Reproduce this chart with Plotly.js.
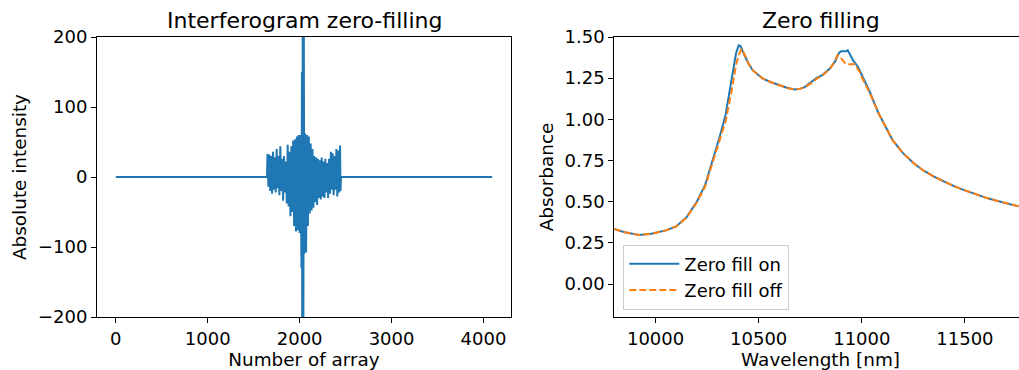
<!DOCTYPE html>
<html>
<head>
<meta charset="utf-8">
<script src="https://cdn.plot.ly/plotly-3.0.1.min.js"></script>
<style>
html,body{margin:0;padding:0;overflow:hidden;background:#fff;}
#chart{width:1030px;height:370px;}
</style>
</head>
<body>
<div id="chart"></div>
<script>
// ---- Interferogram (left) ----
const arrayIndex = [0, 1645,
  1650,1660,1670,1680,1690,1700,1710,1720,1730,1740,1750,1760,1770,1780,1790,1800,
  1810,1820,1830,1840,1850,1860,1870,1880,1890,1900,1910,1920,1930,1940,1950,1960,
  1970,1980,1990,2000,2010,2020,2025,2030,2035,2040,2045,2050,2060,2070,2080,2090,
  2100,2110,2120,2130,2140,2150,2160,2170,2180,2190,2200,2210,2220,2230,2240,2250,
  2260,2270,2280,2290,2300,2310,2320,2330,2340,2350,2360,2370,2380,2390,2400,2410,
  2420,2430,2440,2445,2450, 4095];
const intensity = [0, 0,
  33,-14,32,-20,30,-24,36,-18,28,-22,40,-16,30,-26,44,-20,
  26,-34,30,-22,22,-38,46,-42,36,-56,44,-50,52,-70,54,-78,
  58,-76,60,-80,60,-130,150,-420,450,-330,260,-110,62,-108,60,-70,
  58,-52,48,-48,40,-44,30,-36,28,-40,26,-30,24,-32,28,-28,
  22,-30,26,-22,20,-30,26,-24,36,-18,34,-26,30,-18,40,-28,
  38,-22,45,-20,0, 0];

// ---- Absorbance spectra (right) ----
const wavelengthOn = [9798,9850,9920,9980,10050,10100,10150,10200,10240,10280,10310,10340,
  10370,10390,10403,10412,10424,10450,10472,10520,10560,10600,10640,10675,10700,10723,
  10750,10780,10810,10845,10870,10890,10900,10925,10932,10958,10982,11010,11039,11080,
  11120,11150,11200,11250,11300,11350,11400,11450,11500,11550,11600,11650,11700,11760];
const absorbanceOn = [0.334,0.315,0.298,0.305,0.326,0.350,0.405,0.500,0.600,0.760,0.890,1.030,
  1.260,1.400,1.449,1.445,1.409,1.340,1.297,1.247,1.225,1.206,1.190,1.182,1.185,1.196,
  1.220,1.251,1.270,1.308,1.350,1.405,1.413,1.413,1.420,1.358,1.318,1.240,1.166,1.040,
  0.940,0.872,0.795,0.735,0.688,0.652,0.622,0.593,0.569,0.546,0.525,0.507,0.490,0.472];

const wavelengthOff = [9798,9850,9920,9980,10050,10100,10150,10200,10240,10280,10310,10340,
  10370,10390,10403,10417,10424,10450,10472,10520,10560,10600,10640,10675,10700,10723,
  10750,10780,10810,10845,10870,10882,10900,10920,10934,10966,10990,11010,11039,11080,
  11120,11150,11200,11250,11300,11350,11400,11450,11500,11550,11600,11650,11700,11760];
const absorbanceOff = [0.334,0.315,0.298,0.305,0.326,0.350,0.403,0.495,0.592,0.750,0.875,0.990,
  1.180,1.330,1.390,1.429,1.415,1.340,1.297,1.247,1.225,1.206,1.190,1.182,1.185,1.196,
  1.215,1.245,1.268,1.305,1.355,1.390,1.370,1.340,1.335,1.335,1.287,1.230,1.160,1.040,
  0.940,0.872,0.795,0.735,0.688,0.652,0.622,0.593,0.569,0.546,0.525,0.507,0.490,0.472];

const leftTicks = [0,1000,2000,3000,4000];
const leftYTicks = [-200,-100,0,100,200];
const rightTicks = [10000,10500,11000,11500];
const rightYTicks = [0,0.25,0.5,0.75,1.0,1.25,1.5];

const W = 1030, H = 370;
const FONT = 'DejaVu Sans, sans-serif';
const blue = '#1f77b4', orange = '#ff7f0e';

const traces = [
  {x: arrayIndex, y: intensity, type:'scatter', mode:'lines', xaxis:'x', yaxis:'y',
   line:{color:blue, width:2}, showlegend:false},
  {x: wavelengthOn, y: absorbanceOn, type:'scatter', mode:'lines', xaxis:'x2', yaxis:'y2',
   name:'Zero fill on', line:{color:blue, width:2}},
  {x: wavelengthOff, y: absorbanceOff, type:'scatter', mode:'lines', xaxis:'x2', yaxis:'y2',
   name:'Zero fill off', line:{color:orange, width:2, dash:'7px,3px'}}
];

const yDom = [(H-317)/H, (H-37)/H];
const axisBase = {
  showline:true, mirror:true, linecolor:'#000', linewidth:1,
  ticks:'outside', ticklen:5, tickwidth:1, tickcolor:'#000',
  showgrid:false, zeroline:false,
  tickfont:{family:FONT, size:18, color:'#000'}
};

const layout = {
  width: W, height: H,
  margin:{l:0, r:0, t:0, b:0},
  paper_bgcolor:'#fff', plot_bgcolor:'#fff',
  font:{family:FONT, color:'#000'},
  xaxis: Object.assign({}, axisBase, {
    domain:[97/W, 511/W], range:[-204.75, 4299.75],
    tickvals:leftTicks, ticktext:leftTicks.map(String),
    title:{text:'Number of array', font:{family:FONT,size:18.4,color:'#000'}, standoff:4}
  }),
  yaxis: Object.assign({}, axisBase, {
    domain:yDom, range:[-200,200],
    tickvals:leftYTicks, ticktext:leftYTicks.map(v => v<0 ? '\u2212'+Math.abs(v) : String(v)),
    title:{text:'Absolute intensity', font:{family:FONT,size:18.4,color:'#000'}, standoff:6}
  }),
  xaxis2: Object.assign({}, axisBase, {
    domain:[614.3/W, 1026.8/W], range:[9800, 11800], anchor:'y2',
    tickvals:rightTicks, ticktext:rightTicks.map(String),
    title:{text:'Wavelength [nm]', font:{family:FONT,size:18.4,color:'#000'}, standoff:4}
  }),
  yaxis2: Object.assign({}, axisBase, {
    domain:yDom, range:[-0.2,1.5], anchor:'x2',
    tickvals:rightYTicks, ticktext:rightYTicks.map(v => v.toFixed(2)),
    title:{text:'Absorbance', font:{family:FONT,size:18.4,color:'#000'}, standoff:6}
  }),
  annotations:[
    {text:'Interferogram zero-filling', xref:'paper', yref:'paper',
     x:304/W, y:(H-21)/H, xanchor:'center', yanchor:'middle', showarrow:false,
     font:{family:FONT, size:22, color:'#000'}},
    {text:'Zero filling', xref:'paper', yref:'paper',
     x:820.5/W, y:(H-21)/H, xanchor:'center', yanchor:'middle', showarrow:false,
     font:{family:FONT, size:22, color:'#000'}}
  ],
  legend:{
    x:623.3/W, y:(H-309.5)/H, xanchor:'left', yanchor:'bottom',
    bgcolor:'rgba(255,255,255,0.8)', bordercolor:'#cccccc', borderwidth:1,
    itemwidth:50,
    font:{family:FONT, size:18, color:'#000'}
  }
};

Plotly.newPlot('chart', traces, layout, {staticPlot:true, displayModeBar:false});
</script>
</body>
</html>
